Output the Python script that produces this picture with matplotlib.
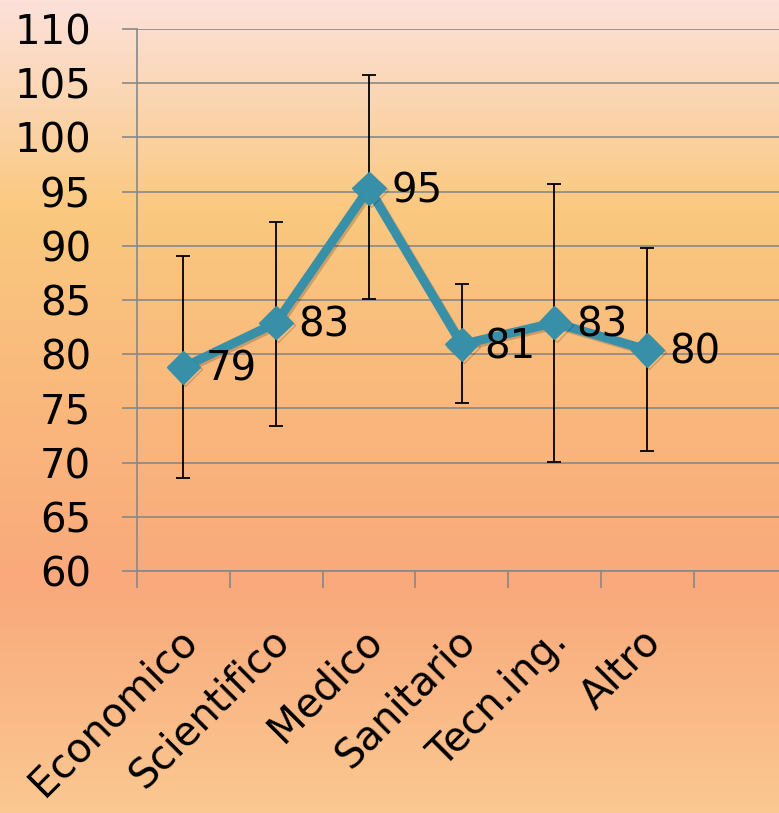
import numpy as np
import matplotlib.pyplot as plt
from matplotlib.colors import LinearSegmentedColormap
import matplotlib.patheffects as pe

categories = ["Economico", "Scientifico", "Medico", "Sanitario", "Tecn.ing.", "Altro"]
means = [78.8, 82.9, 95.3, 80.9, 82.9, 80.4]
err_plus = [10.3, 9.3, 10.5, 5.6, 12.8, 9.4]
err_minus = [10.2, 9.5, 10.2, 5.4, 12.8, 9.3]
labels = ["79", "83", "95", "81", "83", "80"]

line_col = "#378FA8"

fig = plt.figure(figsize=(7.79, 8.13), dpi=100)

# background gradient
bg = fig.add_axes([0, 0, 1, 1], zorder=-10)
grad = LinearSegmentedColormap.from_list(
    "bg", [(0.0, "#FDE1DA"), (0.12, "#FBD6B2"), (0.26, "#FAC87E"),
           (0.72, "#F9A97B"), (1.0, "#FBC891")])
bg.imshow(np.linspace(0, 1, 256).reshape(-1, 1), aspect="auto", cmap=grad,
          extent=[0, 1, 0, 1])
bg.axis("off")

ax = fig.add_axes([137 / 779, (813 - 571) / 813, 1 - 137 / 779, 542 / 813])
ax.patch.set_alpha(0)

x = np.arange(len(categories))
ax.errorbar(x, means, yerr=[err_minus, err_plus], fmt="none", ecolor="black",
            elinewidth=1.3, capsize=4.7, capthick=1.3, zorder=2)
ax.plot(x, means, color=line_col, lw=6.5, marker="D", markersize=17,
        solid_joinstyle="miter", zorder=3,
        path_effects=[pe.SimpleLineShadow(offset=(1.5, -1.5), shadow_color="black",
                                          alpha=0.18),
                      pe.Normal()])

for xi, m, lab in zip(x, means, labels):
    ax.annotate(lab, (xi, m), xytext=(16, -2), textcoords="offset points",
                fontsize=29, ha="left", va="center", zorder=4)

ax.set_ylim(60, 110)
ax.set_yticks(np.arange(60, 111, 5))
ax.set_xlim(-0.5, 6.42)
ax.set_xticks(np.arange(-0.5, 6.5, 1.0))
ax.set_xticklabels([])
ax.grid(axis="y", color="#888888", lw=1.2)
ax.set_axisbelow(True)

for s in ["top", "right"]:
    ax.spines[s].set_visible(False)
for s in ["left", "bottom"]:
    ax.spines[s].set_color("#888888")
    ax.spines[s].set_linewidth(1.2)

ax.tick_params(axis="y", direction="out", length=11, width=1.2, color="#888888",
               labelsize=29, pad=22)
ax.tick_params(axis="x", direction="out", length=12, width=1.2, color="#888888")

# category names, rotated 45 degrees, ending just right of each category
for xi, name in zip(x, categories):
    ax.text(xi + 0.16, -0.133, name, transform=ax.get_xaxis_transform(),
            rotation=45, rotation_mode="anchor", ha="right", va="baseline",
            fontsize=29, clip_on=False)

fig.savefig("out.png", dpi=100)
